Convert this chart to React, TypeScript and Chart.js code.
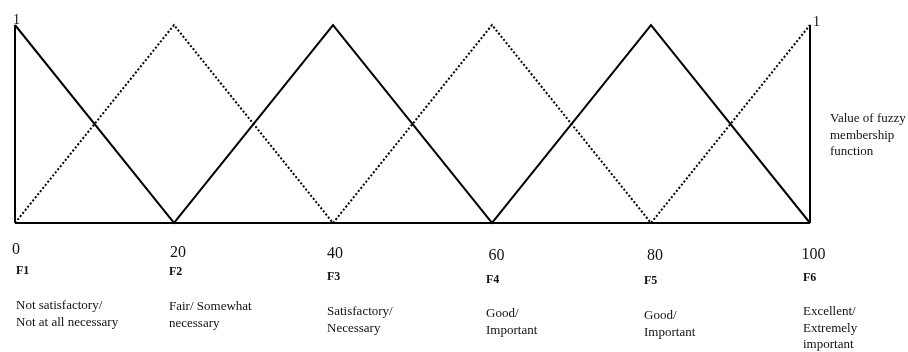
import React, { useEffect, useRef } from "react";
import { Chart, registerables } from "chart.js";

Chart.register(...registerables);

// ---- data ----
const xValues = [0, 20, 40, 60, 80, 100];
const solidMembership = [1, 0, 1, 0, 1, 0];
const dottedMembership = [0, 1, 0, 1, 0, 1];
const tickLabels = ["0", "20", "40", "60", "80", "100"];
const fuzzyLabels = ["F1", "F2", "F3", "F4", "F5", "F6"];
const descriptions = [
  ["Not satisfactory/", "Not at all necessary"],
  ["Fair/ Somewhat", "necessary"],
  ["Satisfactory/", "Necessary"],
  ["Good/", "Important"],
  ["Good/", "Important"],
  ["Excellent/", "Extremely", "important"],
];
const axisTitle = ["Value of fuzzy", "membership", "function"];
const yMaxLabel = "1";

// ---- layout (pixel nudges for hand-placed text) ----
const numDx = [1, 4, 2, 4.5, 4, 3.5];
const numY = [250, 253, 253.5, 255.5, 256, 255];
const fDx = [1, -5, -6, -6, -7, -7];
const fY = [271, 272, 277, 280, 280.5, 277.5];
const descY = [306, 307, 312, 314, 316, 312];

const SERIF = '"Liberation Serif", "Times New Roman", serif';

const textPlugin = {
  id: "fuzzyText",
  afterDraw(chart: any) {
    const ctx = chart.ctx;
    const xs = chart.scales.x;
    const ys = chart.scales.y;
    ctx.save();
    ctx.fillStyle = "#111";
    ctx.textBaseline = "middle";

    xValues.forEach((v, i) => {
      const px = xs.getPixelForValue(v);
      ctx.font = `16px ${SERIF}`;
      ctx.textAlign = "center";
      ctx.fillText(tickLabels[i], px + numDx[i], numY[i]);
      ctx.textAlign = "left";
      ctx.font = `bold 12px ${SERIF}`;
      ctx.fillText(fuzzyLabels[i], px + fDx[i], fY[i]);
      ctx.font = `13px ${SERIF}`;
      descriptions[i].forEach((line, j) => {
        ctx.fillText(line, px + fDx[i], descY[i] + j * 16.5);
      });
    });

    const top = ys.getPixelForValue(1);
    ctx.font = `14px ${SERIF}`;
    ctx.textAlign = "left";
    ctx.fillText(yMaxLabel, xs.getPixelForValue(0) - 2, top - 5);
    ctx.fillText(yMaxLabel, xs.getPixelForValue(100) + 3, top - 3);

    ctx.font = `13px ${SERIF}`;
    axisTitle.forEach((line, j) => {
      ctx.fillText(line, xs.getPixelForValue(100) + 20, 119 + j * 16.5);
    });
    ctx.restore();
  },
};

export default function App() {
  const ref = useRef<HTMLCanvasElement | null>(null);

  useEffect(() => {
    document.body.style.margin = "0";
    if (!ref.current) return;
    const pts = (ys: number[]) => xValues.map((x, i) => ({ x, y: ys[i] }));
    const base = {
      borderColor: "#000",
      pointRadius: 0,
      fill: false,
      tension: 0,
      clip: false as any,
    };
    const chart = new Chart(ref.current, {
      type: "line",
      data: {
        datasets: [
          { ...base, data: pts(solidMembership), borderWidth: 2 },
          { ...base, data: pts(dottedMembership), borderWidth: 2, borderDash: [2, 2] },
          { ...base, data: [{ x: xValues[0], y: 0 }, { x: xValues[0], y: 1 }], borderWidth: 2 },
          { ...base, data: [{ x: xValues[5], y: 0 }, { x: xValues[5], y: 1 }], borderWidth: 2 },
          { ...base, data: [{ x: xValues[0], y: 0 }, { x: xValues[5], y: 0 }], borderWidth: 2 },
        ],
      },
      options: {
        animation: false,
        responsive: false,
        maintainAspectRatio: false,
        layout: { padding: { left: 15, right: 98, top: 25, bottom: 129 } },
        scales: {
          x: { type: "linear", min: 0, max: 100, display: false },
          y: { type: "linear", min: 0, max: 1, display: false },
        },
        plugins: { legend: { display: false }, tooltip: { enabled: false } },
      },
      plugins: [textPlugin],
    });
    return () => chart.destroy();
  }, []);

  return (
    <div style={{ position: "absolute", left: 0, top: 0, width: 908, height: 352, background: "#fff" }}>
      <canvas ref={ref} width={908} height={352} style={{ width: 908, height: 352 }} />
    </div>
  );
}
